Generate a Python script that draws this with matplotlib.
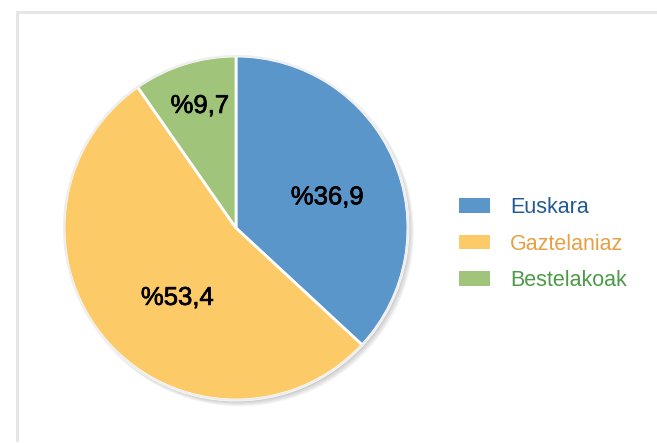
import matplotlib
matplotlib.use("Agg")
import matplotlib.pyplot as plt
from matplotlib.lines import Line2D
from matplotlib.patches import Circle
import matplotlib.patheffects as pe
import numpy as np

categories = ["Euskara", "Gaztelaniaz", "Bestelakoak"]
values = [36.9, 53.4, 9.7]
pct_labels = ["%36,9", "%53,4", "%9,7"]

slice_colors = ["#5b96cb", "#fdca68", "#a1c47b"]
text_colors = ["#215a91", "#e6a043", "#4c9a47"]
label_dist = [0.56, 0.53, 0.74]
label_angle_shift = [-5, 9, -1]

plt.rcParams['font.family'] = ['Liberation Sans', 'DejaVu Sans']

W, H = 657, 443
fig = plt.figure(figsize=(W / 100, H / 100), dpi=100)
fig.patch.set_facecolor("white")

# frame lines (top and left visible)
fig.add_artist(Line2D([17 / W, 1.0], [1 - 12 / H, 1 - 12 / H], color="#e6e6e6", lw=2.2))
fig.add_artist(Line2D([17 / W, 17 / W], [1 - 12 / H, 1 - 440 / H], color="#e6e6e6", lw=2.2))

cx, cy, R = 236, 228, 172
ax = fig.add_axes([(cx - R) / W, (H - cy - R) / H, 2 * R / W, 2 * R / H])

# soft shadow
for i in range(4):
    ax.add_patch(Circle((0.010 + i * 0.004, -0.012 - i * 0.004), 1.0 + 0.004 * i,
                        color="black", alpha=0.05, lw=0, zorder=0, clip_on=False))

wedges, _ = ax.pie(values, colors=slice_colors, startangle=90, counterclock=False,
                   radius=1.0, wedgeprops=dict(edgecolor="white", linewidth=2.0, zorder=2))
for w in wedges:
    w.set_clip_on(False)
ax.add_patch(Circle((0, 0), 1.0, fill=False, edgecolor="#eeeeee", lw=1.5, zorder=3, clip_on=False))

for w, lab, d, s in zip(wedges, pct_labels, label_dist, label_angle_shift):
    ang = np.deg2rad((w.theta1 + w.theta2) / 2 + s)
    ax.text(d * np.cos(ang), d * np.sin(ang), lab, ha="center", va="center",
            fontsize=18.5, color="black", zorder=4,
            path_effects=[pe.withStroke(linewidth=0.5, foreground="black")])

ax.set_xlim(-1, 1)
ax.set_ylim(-1, 1)
ax.set_aspect("equal")
ax.axis("off")

fs = 15.5
leg = fig.legend(wedges, categories, loc="upper left",
                 bbox_to_anchor=(459 / W, 1 - 197 / H), frameon=False,
                 fontsize=fs, handlelength=1.44, handleheight=0.65,
                 handletextpad=0.93, labelspacing=0.72, borderpad=0,
                 borderaxespad=0, labelcolor=text_colors)
for h in leg.legend_handles:
    h.set_edgecolor("none")
    h.set_linewidth(0)

fig.savefig("out.png", dpi=100, facecolor="white")
